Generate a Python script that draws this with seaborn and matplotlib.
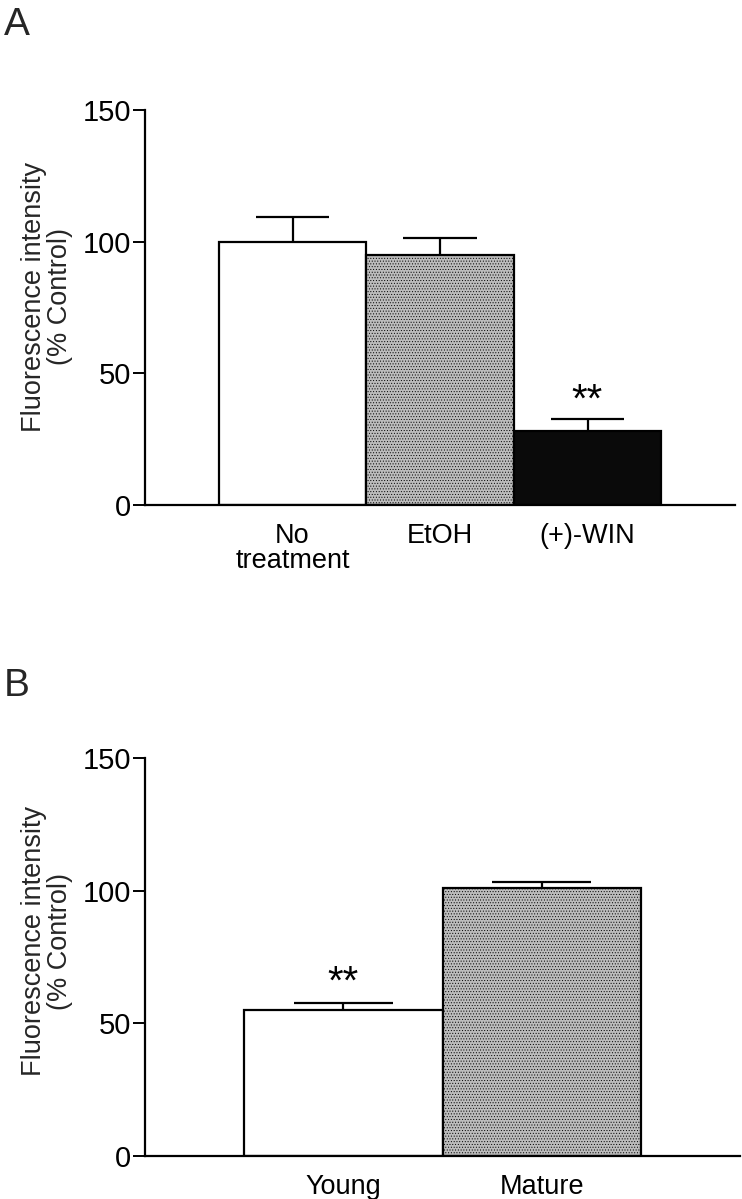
import matplotlib
matplotlib.use("Agg")
import matplotlib.pyplot as plt
import seaborn as sns
import pandas as pd

# ---- data ----
a_categories = ["No\ntreatment", "EtOH", "(+)-WIN"]
a_values = [100, 95, 28]
a_errors = [9.5, 6.5, 4.5]
a_colors = ["#ffffff", "#bcbcbc", "#0a0a0a"]
a_sig = ["", "", "**"]

b_categories = ["Young", "Mature"]
b_values = [55, 101]
b_errors = [2.5, 2.3]
b_colors = ["#ffffff", "#bcbcbc"]
b_sig = ["**", ""]

y_ticks = [0, 50, 100, 150]
y_label = "Fluorescence intensity\n(% Control)"

sns.set_theme(style="white")
plt.rcParams["font.family"] = ["Liberation Sans", "DejaVu Sans"]

fig = plt.figure(figsize=(7.42, 11.99), dpi=100)
axA = fig.add_axes([145/742, 1-505/1199, (735-145)/742, (505-110)/1199])
axB = fig.add_axes([145/742, 1-1155.7/1199, (740-145)/742, (1155.7-758.3)/1199])


def draw(ax, cats, vals, errs, colors, sig, xlim, label_y, star_off):
    df = pd.DataFrame({"cat": cats, "val": vals})
    sns.barplot(data=df, x="cat", y="val", hue="cat", palette=colors,
                order=cats, hue_order=cats, width=1.0, edgecolor="black",
                linewidth=1.6, errorbar=None, legend=False, ax=ax, zorder=2)
    for p, c in zip(ax.patches, colors):
        if c == "#bcbcbc":
            p.set_hatch("......")
            if hasattr(p, "set_hatch_linewidth"):
                p.set_hatch_linewidth(0.4)
    xs = list(range(len(cats)))
    tops = [v + e for v, e in zip(vals, errs)]
    ax.vlines(xs, vals, tops, color="black", lw=1.6, zorder=3)
    ax.hlines(tops, [x - 0.25 for x in xs], [x + 0.25 for x in xs],
              color="black", lw=1.6, zorder=3)
    for x, t, s in zip(xs, tops, sig):
        if s:
            ax.text(x, t + star_off, s, ha="center", va="baseline",
                    fontsize=29, color="black")
    ax.set_xlim(*xlim)
    ax.set_ylim(0, 150)
    ax.set_yticks(y_ticks)
    ax.set_yticklabels([str(t) for t in y_ticks])
    ax.set_xlabel("")
    ax.set_ylabel(y_label, fontsize=19.5, linespacing=1.0, labelpad=7)
    ax.yaxis.label.set_y(label_y)
    for s in ["top", "right"]:
        ax.spines[s].set_visible(False)
    for s in ["left", "bottom"]:
        ax.spines[s].set_color("black")
        ax.spines[s].set_linewidth(1.6)
    ax.tick_params(axis="y", direction="out", length=9, width=1.4,
                   labelsize=21, pad=1, left=True, colors="black")
    ax.tick_params(axis="x", length=0, labelsize=19.5, pad=13, colors="black")
    for lbl in ax.get_xticklabels():
        lbl.set_linespacing(0.95)
    ax.set_facecolor("white")


draw(axA, a_categories, a_values, a_errors, a_colors, a_sig, (-1.0, 3.0), 0.527, 3.0)
draw(axB, b_categories, b_values, b_errors, b_colors, b_sig, (-1.0, 2.0), 0.54, 3.5)

fig.text(4/742, 1-35/1199, "A", fontsize=28, ha="left", va="baseline")
fig.text(4/742, 1-696/1199, "B", fontsize=28, ha="left", va="baseline")

fig.savefig("out.png", dpi=100, facecolor="white")
